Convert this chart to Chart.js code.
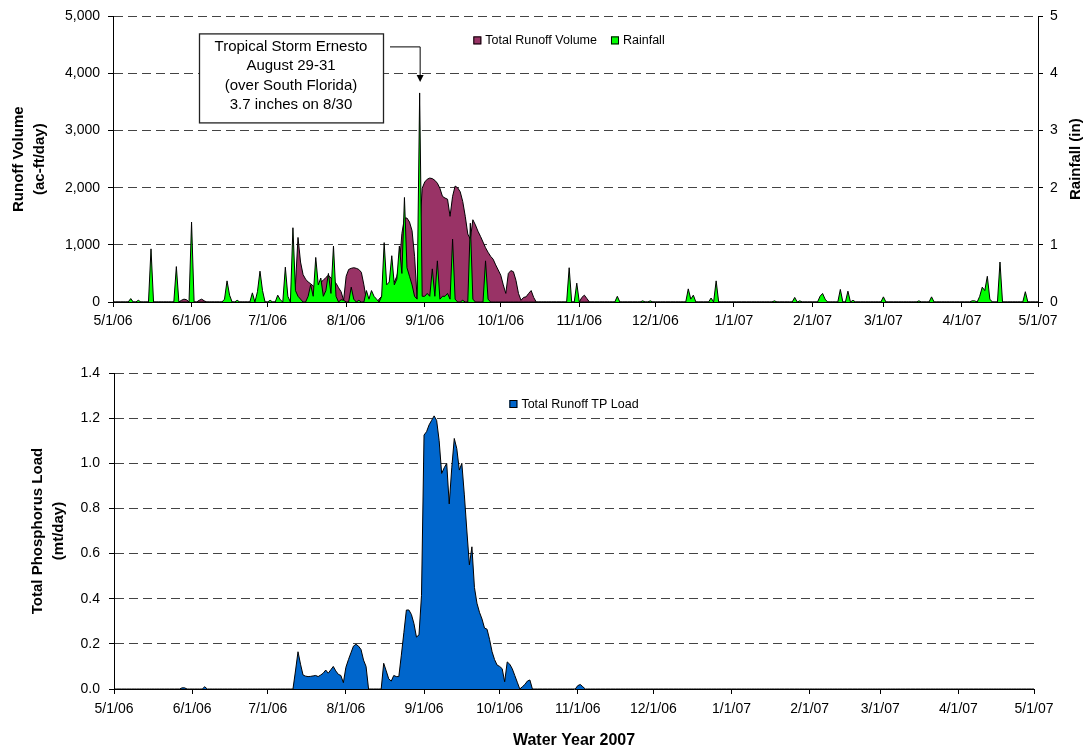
<!DOCTYPE html>
<html lang="en">
<head>
<meta charset="UTF-8">
<title>Runoff and TP Load, Water Year 2007</title>
<script src="https://cdn.jsdelivr.net/npm/chart.js"></script>
<style>
	body { margin: 0; background: #fff; }
	canvas { position: absolute; left: 0; }
	#topChart { top: 0; }
	#bottomChart { top: 340px; }
</style>
</head>
<body>

<canvas id="topChart" width="1088" height="340"></canvas>
<canvas id="bottomChart" width="1088" height="413"></canvas>

<script>
// x axis: days since 5/1/06
const tickDays = [0, 31, 61, 92, 123, 153, 184, 214, 245, 276, 304, 335, 365];
const tickLabels = ['5/1/06', '6/1/06', '7/1/06', '8/1/06', '9/1/06', '10/1/06', '11/1/06',
	'12/1/06', '1/1/07', '2/1/07', '3/1/07', '4/1/07', '5/1/07'];

// daily values, [day, value]; days not listed are 0
const runoff = [
	[27, 30], [28, 50], [29, 40], [34, 30], [35, 50], [36, 20],
	[72, 300], [73, 1130], [74, 700], [75, 480], [76, 400], [77, 350], [78, 320], [79, 280],
	[80, 260], [81, 300], [82, 350], [83, 380], [84, 430], [85, 470], [86, 420], [87, 370],
	[88, 330], [89, 250], [90, 180], [91, 30], [92, 450], [93, 570], [94, 590], [95, 600],
	[96, 590], [97, 570], [98, 520], [99, 300], [100, 30],
	[105, 50], [106, 100], [107, 150], [108, 200], [109, 250], [110, 300], [111, 350],
	[112, 450], [113, 650], [114, 1200], [115, 1470], [116, 1470], [117, 1400], [118, 1250],
	[119, 800], [120, 60], [121, 1200], [122, 1990], [123, 2100], [124, 2150], [125, 2170],
	[126, 2160], [127, 2130], [128, 2080], [129, 1990], [130, 1850], [131, 1820], [132, 1800],
	[133, 1500], [134, 1850], [135, 2030], [136, 2000], [137, 1930], [138, 1760], [139, 1500],
	[140, 1190], [141, 1100], [142, 1440], [143, 1350], [144, 1240], [145, 1150], [146, 1050],
	[147, 950], [148, 870], [149, 800], [150, 750], [151, 650], [152, 560], [153, 470],
	[154, 300], [155, 150], [156, 500], [157, 550], [158, 530], [159, 380], [160, 150],
	[161, 30], [162, 80], [163, 90], [164, 150], [165, 200], [166, 80],
	[185, 80], [186, 120], [187, 60]
];

const rainfall = [
	[7, 0.06], [10, 0.03], [15, 0.93], [25, 0.62], [31, 1.40], [44, 0.05], [45, 0.37], [46, 0.12],
	[49, 0.03], [55, 0.16], [57, 0.18], [58, 0.54], [59, 0.2], [62, 0.03], [65, 0.12], [66, 0.04],
	[68, 0.61], [69, 0.1], [71, 1.30], [72, 0.2], [73, 0.1], [74, 0.05], [77, 0.1], [78, 0.3],
	[79, 0.1], [80, 0.78], [81, 0.3], [82, 0.42], [83, 0.1], [84, 0.2], [85, 0.5], [86, 0.15],
	[87, 0.98], [88, 0.1], [90, 0.04], [91, 0.03], [94, 0.26], [95, 0.05], [97, 0.03],
	[100, 0.2], [101, 0.05], [102, 0.2], [103, 0.1], [104, 0.05], [106, 0.1], [107, 1.04],
	[108, 0.3], [109, 0.35], [110, 0.81], [111, 0.3], [112, 0.4], [113, 0.98], [114, 0.5],
	[115, 1.83], [116, 0.6], [117, 0.45], [118, 0.3], [119, 0.1], [120, 0.05], [121, 3.66],
	[122, 0.1], [123, 0.1], [124, 0.15], [125, 0.1], [126, 0.58], [127, 0.1], [128, 0.72],
	[129, 0.05], [130, 0.1], [131, 0.1], [132, 0.15], [133, 0.05], [134, 1.10], [135, 0.05],
	[138, 0.03], [141, 1.38], [142, 0.05], [147, 0.72], [148, 0.05],
	[180, 0.60], [183, 0.33], [199, 0.10], [209, 0.02], [212, 0.02], [227, 0.23], [228, 0.05],
	[229, 0.12], [236, 0.07], [238, 0.37], [261, 0.02], [269, 0.08], [271, 0.02], [279, 0.1],
	[280, 0.15], [281, 0.05], [287, 0.22], [290, 0.19], [292, 0.03], [304, 0.09], [318, 0.02],
	[323, 0.09], [339, 0.02], [340, 0.02], [342, 0.1], [343, 0.26], [344, 0.2], [345, 0.45],
	[346, 0.05], [350, 0.70], [360, 0.18]
];

const tpLoad = [
	[27, 0.005], [28, 0.005], [36, 0.01],
	[72, 0.08], [73, 0.165], [74, 0.11], [75, 0.062], [76, 0.057], [77, 0.055], [78, 0.056],
	[79, 0.058], [80, 0.06], [81, 0.055], [82, 0.062], [83, 0.07], [84, 0.084], [85, 0.07],
	[86, 0.085], [87, 0.10], [88, 0.08], [89, 0.065], [90, 0.06], [91, 0.028], [92, 0.096],
	[93, 0.13], [94, 0.16], [95, 0.19], [96, 0.198], [97, 0.19], [98, 0.175], [99, 0.128],
	[100, 0.1],
	[107, 0.114], [108, 0.08], [109, 0.045], [110, 0.035], [111, 0.06], [112, 0.055],
	[113, 0.055], [114, 0.15], [115, 0.25], [116, 0.35], [117, 0.35], [118, 0.33], [119, 0.29],
	[120, 0.23], [121, 0.24], [122, 0.415], [123, 1.125], [124, 1.14], [125, 1.17], [126, 1.19],
	[127, 1.21], [128, 1.19], [129, 1.10], [130, 0.955], [131, 0.98], [132, 1.0], [133, 0.82],
	[134, 0.98], [135, 1.11], [136, 1.065], [137, 0.97], [138, 1.0], [139, 0.86], [140, 0.70],
	[141, 0.55], [142, 0.63], [143, 0.45], [144, 0.38], [145, 0.34], [146, 0.31], [147, 0.27],
	[148, 0.265], [149, 0.22], [150, 0.165], [151, 0.13], [152, 0.106], [153, 0.10], [154, 0.09],
	[155, 0.032], [156, 0.12], [157, 0.11], [158, 0.09], [159, 0.06], [160, 0.03], [162, 0.01],
	[163, 0.02], [164, 0.035], [165, 0.04],
	[184, 0.015], [185, 0.02], [186, 0.01]
];

const stormNote = ['Tropical Storm Ernesto', 'August 29-31', '(over South Florida)', '3.7 inches on 8/30'];
const stormDay = 121;

const FONT = '"Liberation Sans", Arial, sans-serif';

function daily(pairs) {
	const out = [];
	for (let d = 0; d <= 365; d++) out.push({ x: d, y: 0 });
	pairs.forEach(([d, v]) => { out[d].y = v; });
	return out;
}

function areaSet(label, pairs, color, extra) {
	return Object.assign({
		label: label,
		data: daily(pairs),
		backgroundColor: color,
		borderColor: '#000',
		borderWidth: 1,
		fill: 'origin',
		pointRadius: 0,
		tension: 0
	}, extra || {});
}

function xAxis(height, pad) {
	return {
		type: 'linear', min: 0, max: 365,
		afterBuildTicks: s => { s.ticks = tickDays.map(v => ({ value: v })); },
		ticks: {
			autoSkip: false, maxRotation: 0, padding: pad, color: '#000',
			font: { family: FONT, size: 14 },
			callback: (v, i) => tickLabels[i]
		},
		grid: { drawOnChartArea: false, tickLength: 5, color: '#000' },
		border: { color: '#000', width: 1 },
		afterFit: s => { s.height = height; }
	};
}

function drawLegend(chart, cx, cy) {
	const ctx = chart.ctx;
	ctx.save();
	ctx.font = '12.5px ' + FONT;
	const box = 8, gap = 4, spacing = 14;
	const items = chart.data.datasets;
	const widths = items.map(it => box + gap + ctx.measureText(it.label).width);
	const total = widths.reduce((a, b) => a + b, 0) + spacing * (items.length - 1);
	let x = cx - total / 2;
	items.forEach((it, i) => {
		ctx.fillStyle = it.backgroundColor;
		ctx.fillRect(x, cy - box / 2, box, box);
		ctx.strokeStyle = '#000';
		ctx.lineWidth = 1;
		ctx.strokeRect(x + 0.5, cy - box / 2 + 0.5, box - 1, box - 1);
		ctx.fillStyle = '#000';
		ctx.textAlign = 'left';
		ctx.textBaseline = 'middle';
		ctx.fillText(it.label, x + box + gap, cy + 0.5);
		x += widths[i] + spacing;
	});
	ctx.restore();
}

const topExtras = {
	id: 'topExtras',
	afterDraw(chart) {
		const ctx = chart.ctx;
		const area = chart.chartArea;
		drawLegend(chart, area.left + 456, area.top + 24);

		// storm note box
		ctx.save();
		const bx = area.left + 86, by = area.top + 17, bw = 184, bh = 89;
		ctx.fillStyle = '#fff';
		ctx.fillRect(bx, by, bw, bh);
		ctx.strokeStyle = '#222';
		ctx.lineWidth = 1.3;
		ctx.strokeRect(bx + 0.5, by + 0.5, bw, bh);
		ctx.fillStyle = '#000';
		ctx.font = '15px ' + FONT;
		ctx.textAlign = 'center';
		ctx.textBaseline = 'middle';
		stormNote.forEach((t, i) => ctx.fillText(t, bx + bw / 2, by + 13 + i * 19.5));

		// arrow to the 8/30 rainfall peak
		const ax = chart.scales.x.getPixelForValue(stormDay);
		const peak = rainfall.find(p => p[0] === stormDay)[1];
		const tipY = chart.scales.y1.getPixelForValue(peak) - 11;
		const ly = by + 13;
		ctx.strokeStyle = '#000';
		ctx.lineWidth = 1;
		ctx.beginPath();
		ctx.moveTo(bx + bw + 7, ly + 0.5);
		ctx.lineTo(ax + 0.5, ly + 0.5);
		ctx.lineTo(ax + 0.5, tipY - 6);
		ctx.stroke();
		ctx.fillStyle = '#000';
		ctx.beginPath();
		ctx.moveTo(ax + 0.5 - 3.5, tipY - 7);
		ctx.lineTo(ax + 0.5 + 3.5, tipY - 7);
		ctx.lineTo(ax + 0.5, tipY);
		ctx.closePath();
		ctx.fill();

		// right axis title, reading bottom to top
		ctx.translate(1076, (area.top + area.bottom) / 2);
		ctx.rotate(-Math.PI / 2);
		ctx.font = 'bold 15px ' + FONT;
		ctx.fillText('Rainfall (in)', 0, 0);
		ctx.restore();
	}
};

const bottomExtras = {
	id: 'bottomExtras',
	afterDraw(chart) {
		const area = chart.chartArea;
		drawLegend(chart, (area.left + area.right) / 2, area.top + 31);
	}
};

const yGrid = { color: '#444', tickColor: '#000', tickLength: 5 };
const yBorder = { color: '#000', width: 1, dash: [9, 5] };

new Chart(document.getElementById('topChart'), {
	type: 'line',
	data: {
		datasets: [
			areaSet('Total Runoff Volume', runoff, '#993366', { yAxisID: 'y', order: 1 }),
			areaSet('Rainfall', rainfall, '#00FF00', { yAxisID: 'y1', order: 0 })
		]
	},
	options: {
		responsive: false,
		animation: false,
		layout: { padding: { top: 13, left: 0, right: 0, bottom: 0 } },
		plugins: { legend: { display: false }, tooltip: { enabled: false } },
		scales: {
			x: xAxis(38, 6),
			y: {
				position: 'left', min: 0, max: 5000,
				ticks: {
					stepSize: 1000, padding: 8, color: '#000',
					font: { family: FONT, size: 14 },
					callback: v => v.toLocaleString('en-US')
				},
				grid: yGrid,
				border: yBorder,
				title: {
					display: true, text: ['Runoff Volume', '(ac-ft/day)'], color: '#000',
					font: { family: FONT, size: 15, weight: 'bold', lineHeight: 1.4 },
					padding: { top: 8, bottom: 0 }
				},
				afterFit: s => { s.width = 113; }
			},
			y1: {
				position: 'right', min: 0, max: 5,
				ticks: { stepSize: 1, padding: 7, color: '#000', font: { family: FONT, size: 14 } },
				grid: { drawOnChartArea: false, tickLength: 5, color: '#000' },
				border: { color: '#000', width: 1 },
				afterFit: s => { s.width = 50; }
			}
		}
	},
	plugins: [topExtras]
});

new Chart(document.getElementById('bottomChart'), {
	type: 'line',
	data: {
		datasets: [
			areaSet('Total Runoff TP Load', tpLoad, '#0066CC')
		]
	},
	options: {
		responsive: false,
		animation: false,
		layout: { padding: { top: 33, left: 0, right: 54, bottom: 0 } },
		plugins: { legend: { display: false }, tooltip: { enabled: false } },
		scales: {
			x: Object.assign(xAxis(64, 7), {
				title: {
					display: true, text: 'Water Year 2007', color: '#000',
					font: { family: FONT, size: 16, weight: 'bold' },
					padding: { top: 4, bottom: 3 }
				}
			}),
			y: {
				position: 'left', min: 0, max: 1.4,
				ticks: {
					stepSize: 0.2, padding: 9, color: '#000',
					font: { family: FONT, size: 14 },
					callback: v => v.toFixed(1)
				},
				grid: yGrid,
				border: yBorder,
				title: {
					display: true, text: ['Total Phosphorus Load', '(mt/day)'], color: '#000',
					font: { family: FONT, size: 15, weight: 'bold', lineHeight: 1.4 },
					padding: { top: 27, bottom: 0 }
				},
				afterFit: s => { s.width = 114; }
			}
		}
	},
	plugins: [bottomExtras]
});
</script>
</body>
</html>
